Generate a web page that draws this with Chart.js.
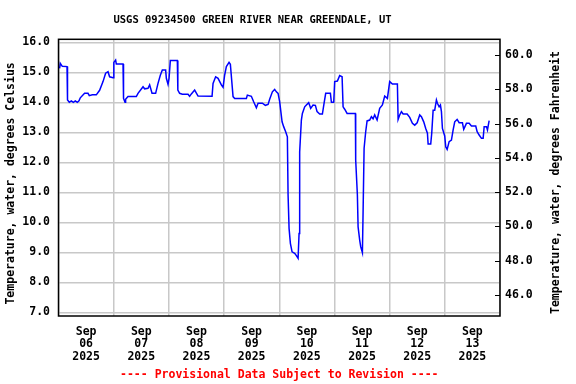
<!DOCTYPE html>
<html><head><meta charset="utf-8">
<script src="https://cdn.jsdelivr.net/npm/chart.js@4/dist/chart.umd.min.js"></script>
<style>html,body{margin:0;padding:0;background:#fff;}#wrap{width:576px;height:384px;}</style>
</head><body><div id="wrap"><canvas id="c" width="576" height="384"></canvas></div>
<script>
// hours since Sep 06 2025 00:00
const hours = [0.48,0.78,1.22,1.65,3.70,3.92,4.70,5.57,6.44,7.31,8.18,8.92,9.48,11.35,12.83,13.4,14.70,16.44,17.88,19.36,20.49,21.53,22.23,23.71,24.06,24.84,25.14,28.06,28.28,28.93,29.19,30.23,33.84,34.58,36.76,37.46,38.93,39.63,40.67,42.24,43.28,44.28,45.16,46.59,46.90,47.63,
48.07,48.63,51.68,51.90,52.68,53.86,56.33,57.03,57.77,59.21,60.69,66.78,67.21,68.34,69.39,70.82,71.56,72.26,73.00,74.17,74.74,75.91,76.61,81.70,82.13,83.87,84.87,86.05,86.79,88.66,89.96,91.14,91.83,93.01,94.01,94.75,95.49,
96.18,96.62,97.23,97.92,98.79,99.53,99.84,100.27,100.84,101.58,102.71,103.45,104.19,104.62,104.88,105.62,106.06,107.06,107.80,108.80,109.67,110.71,111.71,112.45,113.58,114.76,115.50,116.20,118.24,118.68,119.68,120.11,121.28,122.28,123.33,123.76,124.46,125.50,129.11,129.24,129.98,130.29,130.98,131.42,132.16,132.46,132.90,133.59,134.20,135.34,136.07,136.81,137.51,138.55,139.68,140.86,141.86,143.03,144.03,
145.21,147.38,147.69,148.38,149.13,149.87,151.61,152.74,153.91,154.91,155.96,157.09,157.83,158.83,159.70,160.44,160.74,161.87,162.31,162.92,163.61,164.35,164.79,165.53,166.09,166.53,166.96,167.96,168.40,169.01,169.88,170.88,171.62,172.31,173.36,174.23,175.66,176.23,177.40,178.58,179.58,181.45,182.06,182.93,183.93,184.67,185.11,186.11,186.54,186.85,187.28];
const tempC = [15.13,15.3,15.25,15.2,15.19,14.08,14.0,14.05,14.0,14.05,14.0,14.05,14.15,14.3,14.3,14.22,14.25,14.25,14.4,14.69,14.97,15.02,14.85,14.82,15.33,15.41,15.28,15.28,14.13,14.0,14.1,14.19,14.19,14.3,14.52,14.45,14.47,14.58,14.3,14.3,14.63,14.9,15.08,15.08,14.8,14.6,
14.8,15.39,15.39,14.41,14.3,14.27,14.27,14.2,14.28,14.41,14.21,14.2,14.63,14.85,14.8,14.58,14.5,14.91,15.19,15.33,15.27,14.19,14.13,14.13,14.24,14.2,14.02,13.82,13.97,13.97,13.9,13.93,14.1,14.35,14.43,14.35,14.3,
14.02,13.74,13.35,13.19,13.02,12.85,10.91,9.8,9.3,9.02,8.97,8.89,8.8,9.63,12.35,13.41,13.63,13.85,13.91,13.99,13.8,13.91,13.9,13.69,13.61,13.61,13.97,14.3,14.3,14.0,14.0,14.69,14.71,14.89,14.85,13.85,13.77,13.63,13.63,12.08,10.91,9.85,9.41,9.19,8.99,10.35,12.47,13.02,13.38,13.41,13.52,13.45,13.58,13.41,13.8,13.91,14.21,14.13,14.69,
14.61,14.61,13.43,13.58,13.69,13.61,13.61,13.5,13.3,13.24,13.32,13.58,13.52,13.35,13.13,12.97,12.61,12.61,12.97,13.74,13.74,14.08,13.97,13.85,13.91,13.69,13.13,12.88,12.52,12.43,12.69,12.74,13.08,13.35,13.43,13.32,13.32,13.1,13.3,13.3,13.21,13.21,13.02,12.91,12.8,12.8,13.19,13.19,13.08,13.21,13.39];
const xTickLabels = [['Sep','06','2025'],['Sep','07','2025'],['Sep','08','2025'],['Sep','09','2025'],['Sep','10','2025'],['Sep','11','2025'],['Sep','12','2025'],['Sep','13','2025']];
const celsiusTicks = [7,8,9,10,11,12,13,14,15,16];
const fahrenheitTicks = [46,48,50,52,54,56,58,60];
const titleText = 'USGS 09234500 GREEN RIVER NEAR GREENDALE, UT';
const leftTitle = 'Temperature, water, degrees Celsius';
const rightTitle = 'Temperature, water, degrees Fahrenheit';
const noteText = '---- Provisional Data Subject to Revision ----';

const FONT = "'DejaVu Sans Mono', monospace";
const points = hours.map((h, i) => ({x: h, y: tempC[i]}));

const framePlugin = {
  id: 'frame',
  afterDatasetsDraw(chart) {
    const {ctx, chartArea: a} = chart;
    ctx.save();
    const s = chart.scales.yF;
    ctx.strokeStyle = '#000';
    ctx.lineWidth = 1;
    fahrenheitTicks.forEach(v => {
      const py = Math.round(s.getPixelForValue(v)) + 0.5;
      ctx.beginPath(); ctx.moveTo(a.right - 5, py); ctx.lineTo(a.right, py); ctx.stroke();
    });
    ctx.lineWidth = 1.5;
    ctx.strokeRect(a.left, a.top, a.right - a.left, a.bottom - a.top);
    ctx.fillStyle = '#000';
    ctx.textAlign = 'center'; ctx.textBaseline = 'middle';
    // chart title
    ctx.font = 'bold 10.5px ' + FONT;
    ctx.fillText(titleText, 252.5, 20.3);
    // axis titles (both read bottom to top)
    ctx.font = 'bold 11.5px ' + FONT;
    ctx.save(); ctx.translate(11.3, 183.4); ctx.rotate(-Math.PI / 2); ctx.fillText(leftTitle, 0, 0); ctx.restore();
    ctx.save(); ctx.translate(556, 182.5); ctx.rotate(-Math.PI / 2); ctx.fillText(rightTitle, 0, 0); ctx.restore();
    ctx.restore();
  }
};

new Chart(document.getElementById('c'), {
  type: 'line',
  data: { datasets: [{ data: points, borderColor: '#0000ff', borderWidth: 1.5, pointRadius: 0, tension: 0, fill: false, yAxisID: 'y' }] },
  options: {
    responsive: false, animation: false,
    layout: { padding: { top: 39.3, left: 0, right: 0, bottom: 0 } },
    plugins: {
      legend: { display: false }, tooltip: { enabled: false },
      title: { display: false },
      subtitle: { display: true, position: 'bottom', fullSize: false, text: noteText, color: '#ff0000', font: { family: FONT, size: 11.5, weight: 'bold', lineHeight: 1.2 }, padding: { top: 6.1, bottom: 2.1 } }
    },
    scales: {
      x: {
        type: 'linear', min: 0, max: 192,
        afterBuildTicks: s => { const t = []; for (let v = 0; v <= 192; v += 12) t.push({ value: v }); s.ticks = t; },
        afterFit: s => { s.height = 46; },
        grid: { color: c => (c.tick && c.tick.value % 24 === 0) ? '#c8c8c8' : 'rgba(0,0,0,0)', lineWidth: 1.5, drawTicks: false },
        border: { display: false },
        ticks: { autoSkip: false, maxRotation: 0, padding: 9.5, color: '#000', font: { family: FONT, size: 11.5, weight: 'bold', lineHeight: 1.087 },
          callback: v => (v % 24 === 12) ? xTickLabels[(v - 12) / 24] : '' }
      },
      y: {
        type: 'linear', position: 'left', min: 6.88, max: 16.1,
        afterBuildTicks: s => { s.ticks = celsiusTicks.map(v => ({ value: v })); },
        afterFit: s => { s.width = 58.5; },
        grid: { color: '#c8c8c8', lineWidth: 1.5, drawTicks: false },
        border: { display: false },
        ticks: { padding: 8.5, color: '#000', font: { family: FONT, size: 11.5, weight: 'bold' }, callback: v => Number(v).toFixed(1) }
      },
      yF: {
        type: 'linear', position: 'right', min: 44.77, max: 60.92,
        afterBuildTicks: s => { s.ticks = fahrenheitTicks.map(v => ({ value: v })); },
        afterFit: s => { s.width = 76; },
        grid: { display: false, drawTicks: false },
        border: { display: false },
        ticks: { padding: 5, color: '#000', font: { family: FONT, size: 11.5, weight: 'bold' }, callback: v => Number(v).toFixed(1) }
      }
    }
  },
  plugins: [framePlugin]
});
</script></body></html>
